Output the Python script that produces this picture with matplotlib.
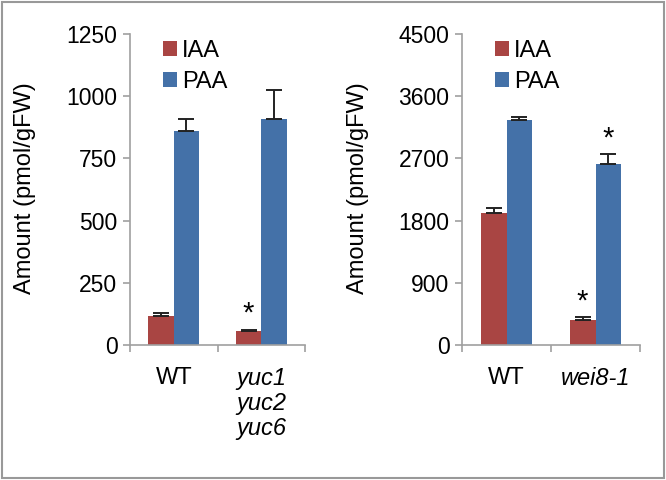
import numpy as np
import matplotlib
matplotlib.use("Agg")
import matplotlib.pyplot as plt
from matplotlib.patches import Rectangle

plt.rcParams['font.family'] = ['Liberation Sans', 'DejaVu Sans']

# data
left_groups = ["WT", "yuc1\nyuc2\nyuc6"]
left_iaa = [116, 56]
left_iaa_err = [12, 5]
left_paa = [861, 909]
left_paa_err = [48, 117]
left_ticks = [0, 250, 500, 750, 1000, 1250]

right_groups = ["WT", "wei8-1"]
right_iaa = [1910, 362]
right_iaa_err = [75, 48]
right_paa = [3256, 2619]
right_paa_err = [40, 145]
right_ticks = [0, 900, 1800, 2700, 3600, 4500]

red = "#A94543"
blue = "#4471A8"
gray = "#A0A0A0"
fs = 17
tfs = 16.5
w = 0.29


def draw_panel(ax, groups, iaa, iaa_err, paa, paa_err, ticks, stars, lab_x):
    x = np.arange(len(groups))
    ekw = dict(ecolor="#222222", elinewidth=1.4, capthick=1.4)
    ax.bar(x - w / 2, iaa, w, color=red, label="IAA",
           yerr=[np.zeros(len(iaa)), iaa_err], capsize=6, error_kw=ekw)
    ax.bar(x + w / 2, paa, w, color=blue, label="PAA",
           yerr=[np.zeros(len(paa)), paa_err], capsize=6, error_kw=ekw)

    # significance stars
    for gx, which, yv in stars:
        off = -w / 2 if which == "iaa" else w / 2
        ax.text(gx + off, yv, "*", ha="center", va="center", fontsize=21)

    ax.set_xlim(-0.5, len(groups) - 0.5)
    ax.set_ylim(0, ticks[-1])
    ax.set_yticks(ticks)
    ax.set_xticks(x)
    ax.set_xticklabels(groups, fontsize=fs, linespacing=1.1)
    for i, t in enumerate(ax.get_xticklabels()):
        if i > 0:
            t.set_fontstyle("italic")
    ax.set_xticks(np.arange(-0.5, len(groups)), minor=True)
    ax.tick_params(axis="x", which="major", length=0, pad=16)
    ax.tick_params(axis="x", which="minor", length=5, color=gray, width=1.2)
    ax.tick_params(axis="y", length=5, color=gray, width=1.2, labelsize=tfs, pad=4)

    for s in ["top", "right"]:
        ax.spines[s].set_visible(False)
    for s in ["left", "bottom"]:
        ax.spines[s].set_color(gray)
        ax.spines[s].set_linewidth(1.2)

    ax.set_ylabel("Amount (pmol/gFW)", fontsize=fs)
    ax.yaxis.set_label_coords(lab_x, 0.505)

    ax.legend(loc="upper left", bbox_to_anchor=(0.12, 1.02), frameon=False,
              fontsize=fs, handlelength=0.6, handleheight=0.6,
              handletextpad=0.2, labelspacing=0.4, borderpad=0)


fig = plt.figure(figsize=(6.66, 4.8), dpi=100)
ax1 = fig.add_axes([130 / 666, 135 / 480, 175 / 666, 311 / 480])
ax2 = fig.add_axes([462 / 666, 135 / 480, 178 / 666, 311 / 480])

draw_panel(ax1, left_groups, left_iaa, left_iaa_err, left_paa, left_paa_err,
           left_ticks, [(1, "iaa", 128)], -0.537)
draw_panel(ax2, right_groups, right_iaa, right_iaa_err, right_paa, right_paa_err,
           right_ticks, [(1, "iaa", 622), (1, "paa", 2981)], -0.522)

# outer frame
fig.patches.append(Rectangle((0.003, 0.004), 0.994, 0.992, transform=fig.transFigure,
                             fill=False, edgecolor="#999999", linewidth=1.5))

fig.savefig("out.png", dpi=100)
